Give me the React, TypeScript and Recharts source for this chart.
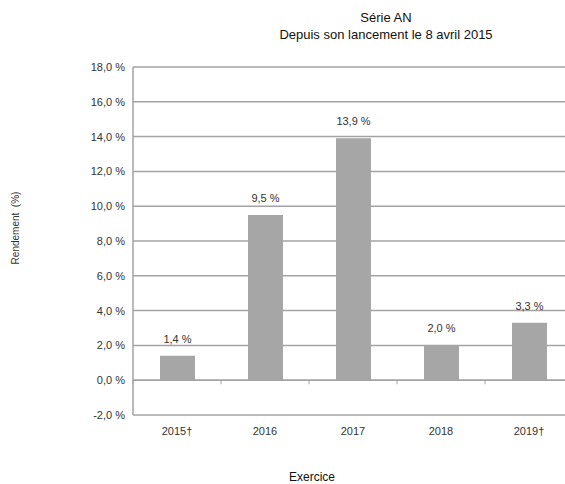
import {
  BarChart,
  Bar,
  XAxis,
  YAxis,
  CartesianGrid,
  LabelList,
  ReferenceLine,
} from "recharts";

const categories = ["2015†", "2016", "2017", "2018", "2019†"];
const rendement = [1.4, 9.5, 13.9, 2.0, 3.3];
const yTicks = [-2, 0, 2, 4, 6, 8, 10, 12, 14, 16, 18];

const data = categories.map((name, i) => ({ name, value: rendement[i] }));

const FONT = "'Liberation Sans', Arial, sans-serif";
const TEXT = "#333333";
const GRID = "#a3a3a3";

const fmtPct = (v: number, digits = 1) =>
  `${v.toFixed(digits).replace(".", ",")} %`;

// petites graduations sous la ligne du zéro, entre les catégories
const ZeroTicks = (props: any) => {
  const vb = props.viewBox || {};
  const step = vb.width / categories.length;
  const marks = [];
  for (let i = 0; i <= categories.length; i++) {
    const x = vb.x + i * step;
    marks.push(
      <line key={i} x1={x} x2={x} y1={vb.y} y2={vb.y + 4} stroke={GRID} strokeWidth={1} />
    );
  }
  return <g>{marks}</g>;
};

const ValueLabel = (props: any) => {
  const { x, y, width, value } = props;
  return (
    <text
      x={Number(x) + Number(width) / 2}
      y={Number(y) - 13}
      textAnchor="middle"
      fill={TEXT}
      fontSize={11}
      fontFamily={FONT}
    >
      {fmtPct(Number(value))}
    </text>
  );
};

const App = () => {
  return (
    <div
      style={{
        position: "absolute",
        left: 0,
        top: 0,
        width: 565,
        height: 484,
        overflow: "hidden",
        background: "#fff",
        fontFamily: FONT,
      }}
    >
      <div
        style={{
          position: "absolute",
          left: 230,
          width: 312,
          top: 9,
          textAlign: "center",
          fontSize: 13,
          lineHeight: "17px",
          color: "#111",
        }}
      >
        Série AN
        <br />
        Depuis son lancement le 8 avril 2015
      </div>
      <div
        style={{
          position: "absolute",
          left: 15,
          top: 228,
          transform: "translate(-50%, -50%) rotate(-90deg)",
          whiteSpace: "pre",
          fontSize: 10,
          color: TEXT,
        }}
      >
        Rendement  (%)
      </div>
      <div
        style={{
          position: "absolute",
          left: 262,
          width: 100,
          top: 470,
          textAlign: "center",
          fontSize: 12,
          color: "#111",
        }}
      >
        Exercice
      </div>
      <BarChart
        width={573}
        height={484}
        data={data}
        margin={{ top: 67, right: 0, bottom: 68, left: 0 }}
        style={{ position: "absolute", left: 0, top: 0 }}
      >
        <CartesianGrid vertical={false} stroke={GRID} strokeWidth={1.5} />
        <XAxis
          dataKey="name"
          axisLine={false}
          tickLine={false}
          tickSize={0}
          tickMargin={12}
          height={1}
          tick={{ fill: TEXT, fontSize: 11, fontFamily: FONT }}
        />
        <YAxis
          width={133}
          domain={[-2, 18]}
          ticks={yTicks}
          interval={0}
          tickFormatter={(v: number) => fmtPct(v)}
          axisLine={{ stroke: GRID, strokeWidth: 1.5 }}
          tickLine={false}
          tickSize={0}
          tickMargin={8}
          tick={{ fill: TEXT, fontSize: 11, fontFamily: FONT }}
        />
        <ReferenceLine y={0} stroke={GRID} strokeWidth={1.5} label={<ZeroTicks />} />
        <Bar dataKey="value" fill="#a6a6a6" barSize={35} isAnimationActive={false}>
          <LabelList dataKey="value" content={<ValueLabel />} />
        </Bar>
      </BarChart>
    </div>
  );
};

export default App;
